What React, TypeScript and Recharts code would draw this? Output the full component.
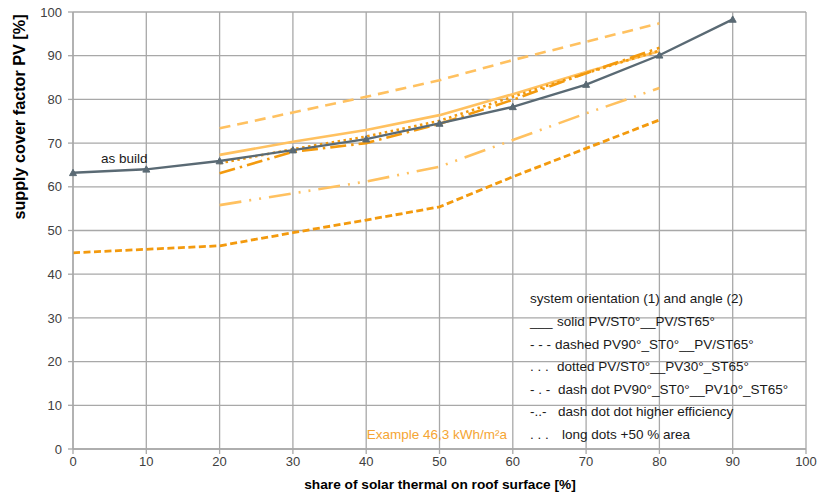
import React from 'react';
import { LineChart, Line, XAxis, YAxis, CartesianGrid, Customized } from 'recharts';

const xValues = [0, 10, 20, 30, 40, 50, 60, 70, 80, 90];
const asBuild = [63.2, 64.0, 65.9, 68.4, 70.9, 74.5, 78.3, 83.4, 90.1, 98.3];
const solidPV = [null, null, 67.3, 70.3, 73.0, 76.4, 81.2, 86.3, 91.0, null];
const dashedPV90 = [null, null, 73.4, 77.0, 80.6, 84.4, 89.0, 93.2, 97.4, null];
const dottedPV30 = [null, null, 65.4, 68.6, 71.5, 75.1, 80.6, 86.0, 91.2, null];
const dashDotPV10 = [null, null, 63.1, 68.0, 70.0, 74.4, 79.9, 86.0, 91.8, null];
const dashDotDotEff = [null, null, 55.8, 58.5, 61.2, 64.6, 70.7, 76.8, 82.6, null];
const longDotsArea = [44.9, 45.7, 46.5, 49.5, 52.4, 55.4, 62.3, 68.8, 75.3, null];

const xTicks = [0, 10, 20, 30, 40, 50, 60, 70, 80, 90, 100];
const yTicks = [0, 10, 20, 30, 40, 50, 60, 70, 80, 90, 100];

const xTitle = 'share of solar thermal on roof surface [%]';
const yTitle = 'supply cover factor PV [%]';
const legendTitle = 'system orientation (1) and angle (2)';
const legendRows = [
  ['___', 'solid PV/ST0°__PV/ST65°'],
  ['- - -', 'dashed PV90°_ST0°__PV/ST65°'],
  ['. . .', 'dotted PV/ST0°__PV30°_ST65°'],
  ['- . -', 'dash dot PV90°_ST0°__PV10°_ST65°'],
  ['-..-', 'dash dot dot higher efficiency'],
  ['. . .', 'long dots +50 % area'],
];
const exampleText = 'Example 46,3 kWh/m²a';
const asBuildText = 'as build';

const data = xValues.map((x, i) => ({
  x,
  asBuild: asBuild[i],
  solidPV: solidPV[i],
  dashedPV90: dashedPV90[i],
  dottedPV30: dottedPV30[i],
  dashDotPV10: dashDotPV10[i],
  dashDotDotEff: dashDotDotEff[i],
  longDotsArea: longDotsArea[i],
}));

const SLATE = '#5a6a74';
const LIGHT = '#ffc160';
const DARK = '#f39a0e';
const GRID = '#a8a8a8';
const FONT = '"Liberation Sans", Arial, sans-serif';
const FS = 13.5;

const Triangle = (props: any) => {
  const { cx, cy, index } = props;
  if (cx == null || cy == null) return <g key={index} />;
  const s = 3.5;
  return (
    <path
      key={index}
      d={`M${cx},${cy - s} L${cx + s},${cy + s * 0.8} L${cx - s},${cy + s * 0.8} Z`}
      fill={SLATE}
      stroke={SLATE}
    />
  );
};

const Annotations = () => {
  const prefixX = 530;
  const textXs = [557, 555, 557, 558, 558, 562];
  const rowY = [326, 348.5, 371, 393.5, 416, 438.5];
  return (
    <g style={{ fontFamily: FONT }}>
      <text
        x={19}
        y={117}
        transform="rotate(-90 19 117)"
        textAnchor="middle"
        dominantBaseline="central"
        fontSize={16.2}
        fontWeight="bold"
        fill="#000"
      >
        {yTitle}
      </text>
      <text x={440} y={489} textAnchor="middle" fontSize={13.7} fontWeight="bold" fill="#000">
        {xTitle}
      </text>
      <text x={101} y={162.5} fontSize={FS} fill="#1a1a1a">
        {asBuildText}
      </text>
      <text x={prefixX} y={303} fontSize={FS} fill="#1a1a1a">
        {legendTitle}
      </text>
      {legendRows.map((r, i) => (
        <g key={i}>
          <text x={prefixX} y={rowY[i]} fontSize={FS} fill="#1a1a1a">
            {r[0]}
          </text>
          <text x={textXs[i]} y={rowY[i]} fontSize={FS} fill="#1a1a1a">
            {r[1]}
          </text>
        </g>
      ))}
      <text x={507} y={438.5} textAnchor="end" fontSize={FS} fill="#f5a533">
        {exampleText}
      </text>
    </g>
  );
};

export default function App() {
  return (
    <div style={{ position: 'absolute', left: 0, top: 0, background: '#fff' }}>
      <LineChart
        width={818}
        height={495}
        data={data}
        margin={{ top: 12, right: 12, left: 13, bottom: 16 }}
      >
        <CartesianGrid stroke={GRID} strokeWidth={1.3} />
        <XAxis
          dataKey="x"
          type="number"
          domain={[0, 100]}
          ticks={xTicks}
          interval={0}
          height={30}
          stroke={GRID}
          strokeWidth={1.3}
          tickSize={5}
          tickMargin={3}
          tick={{ fill: '#404040', fontSize: 13, fontFamily: FONT }}
        />
        <YAxis
          type="number"
          domain={[0, 100]}
          ticks={yTicks}
          interval={0}
          width={60}
          stroke={GRID}
          strokeWidth={1.3}
          tickSize={5}
          tickMargin={6}
          tick={{ fill: '#404040', fontSize: 13, fontFamily: FONT }}
        />
        <Line dataKey="longDotsArea" stroke={DARK} strokeWidth={2.8} strokeDasharray="7 3.5" dot={false} isAnimationActive={false} />
        <Line dataKey="dashDotDotEff" stroke={LIGHT} strokeWidth={2.6} strokeDasharray="22 8 2 8 2 8" dot={false} isAnimationActive={false} />
        <Line dataKey="dashedPV90" stroke={LIGHT} strokeWidth={2.6} strokeDasharray="11 7" dot={false} isAnimationActive={false} />
        <Line dataKey="solidPV" stroke={LIGHT} strokeWidth={2.6} dot={false} isAnimationActive={false} />
        <Line dataKey="dashDotPV10" stroke={DARK} strokeWidth={2.6} strokeDasharray="16 5 2.5 5" dot={false} isAnimationActive={false} />
        <Line dataKey="dottedPV30" stroke={DARK} strokeWidth={2.6} strokeDasharray="2.5 3.5" dot={false} isAnimationActive={false} />
        <Line dataKey="asBuild" stroke={SLATE} strokeWidth={2.4} dot={<Triangle />} isAnimationActive={false} />
        <Customized component={Annotations} />
      </LineChart>
    </div>
  );
}
